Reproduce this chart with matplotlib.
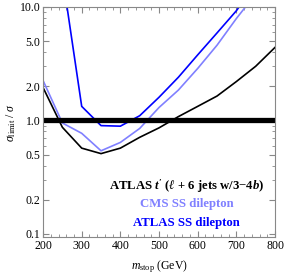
import numpy as np
import matplotlib
matplotlib.use('Agg')
import matplotlib.pyplot as plt
from matplotlib.ticker import FixedLocator, NullFormatter

plt.rcParams['font.family'] = ['Liberation Serif', 'DejaVu Serif']
plt.rcParams['mathtext.fontset'] = 'custom'
plt.rcParams['mathtext.rm'] = 'Liberation Serif'
plt.rcParams['mathtext.it'] = 'Liberation Serif:italic'
plt.rcParams['mathtext.bf'] = 'Liberation Serif:bold'
plt.rcParams['mathtext.bfit'] = 'Liberation Serif:italic:bold'

# Stop masses (GeV)
mass = [200, 250, 300, 350, 400, 450, 500, 550, 600, 650, 700, 750, 800]

# sigma_limit / sigma for each search
atlas_tprime = [1.95, 0.87, 0.57, 0.51, 0.57, 0.71, 0.86, 1.08, 1.33, 1.64, 2.2, 3.0, 4.4]
cms_ss = [2.25, 0.95, 0.77, 0.54, 0.64, 0.85, 1.3, 1.85, 2.87, 4.6, 7.9, 13.0, 20.0]
atlas_ss = [60.0, 19.0, 1.33, 0.90, 0.89, 1.1, 1.6, 2.4, 3.78, 5.9, 9.25, 16.0, 27.0]

yticks = [0.1, 0.2, 0.5, 1.0, 2.0, 5.0, 10.0]
xticks = [200, 300, 400, 500, 600, 700, 800]

fig = plt.figure(figsize=(2.85, 2.77), dpi=100)
ax = fig.add_axes([0.151, 0.1426, 0.814, 0.8324])

ax.plot(mass, atlas_tprime, color='black', lw=1.2)
ax.plot(mass, cms_ss, color='#8080ff', lw=1.2)
ax.plot(mass, atlas_ss, color='#0000ff', lw=1.2)
ax.axhline(1.0, color='black', lw=3.8)

ax.set_yscale('log')
ax.set_xlim(200, 800)
ax.set_ylim(0.093, 10)
ax.yaxis.set_major_locator(FixedLocator(yticks))
ax.set_yticklabels(['%.1f' % v for v in yticks])
minor_y = [m * d for d in [0.1, 1.0] for m in range(1, 10)]
ax.yaxis.set_minor_locator(FixedLocator(minor_y))
ax.yaxis.set_minor_formatter(NullFormatter())
ax.set_xticks(xticks)
ax.set_xticks(np.arange(200, 801, 20), minor=True)

for s in ax.spines.values():
    s.set_color('#888888')
    s.set_linewidth(0.8)
ax.tick_params(which='both', direction='in', top=True, right=True,
               color='#888888', labelsize=8.5, pad=2)
ax.tick_params(which='major', length=4)
ax.tick_params(which='minor', length=2)

ax.set_xlabel(r'$m_{\rm stop}$ (GeV)', fontsize=8.5, labelpad=4)
ax.set_ylabel(r'$\sigma_{\rm limit}$ / $\sigma$', fontsize=8.5, labelpad=1)

ax.text(0.62, 0.223, r"ATLAS $\mathbfit{t'}$ ($\mathbfit{\ell}$ + 6 jets w/3$-$4$\mathbfit{b}$)",
        transform=ax.transAxes, ha='center', va='center', fontsize=9.2,
        fontweight='bold', color='black')
ax.text(0.62, 0.145, 'CMS SS dilepton', transform=ax.transAxes, ha='center',
        va='center', fontsize=9.2, fontweight='bold', color='#8080ff')
ax.text(0.62, 0.063, 'ATLAS SS dilepton', transform=ax.transAxes, ha='center',
        va='center', fontsize=9.2, fontweight='bold', color='#0000ff')

plt.savefig('out.png', dpi=100)
